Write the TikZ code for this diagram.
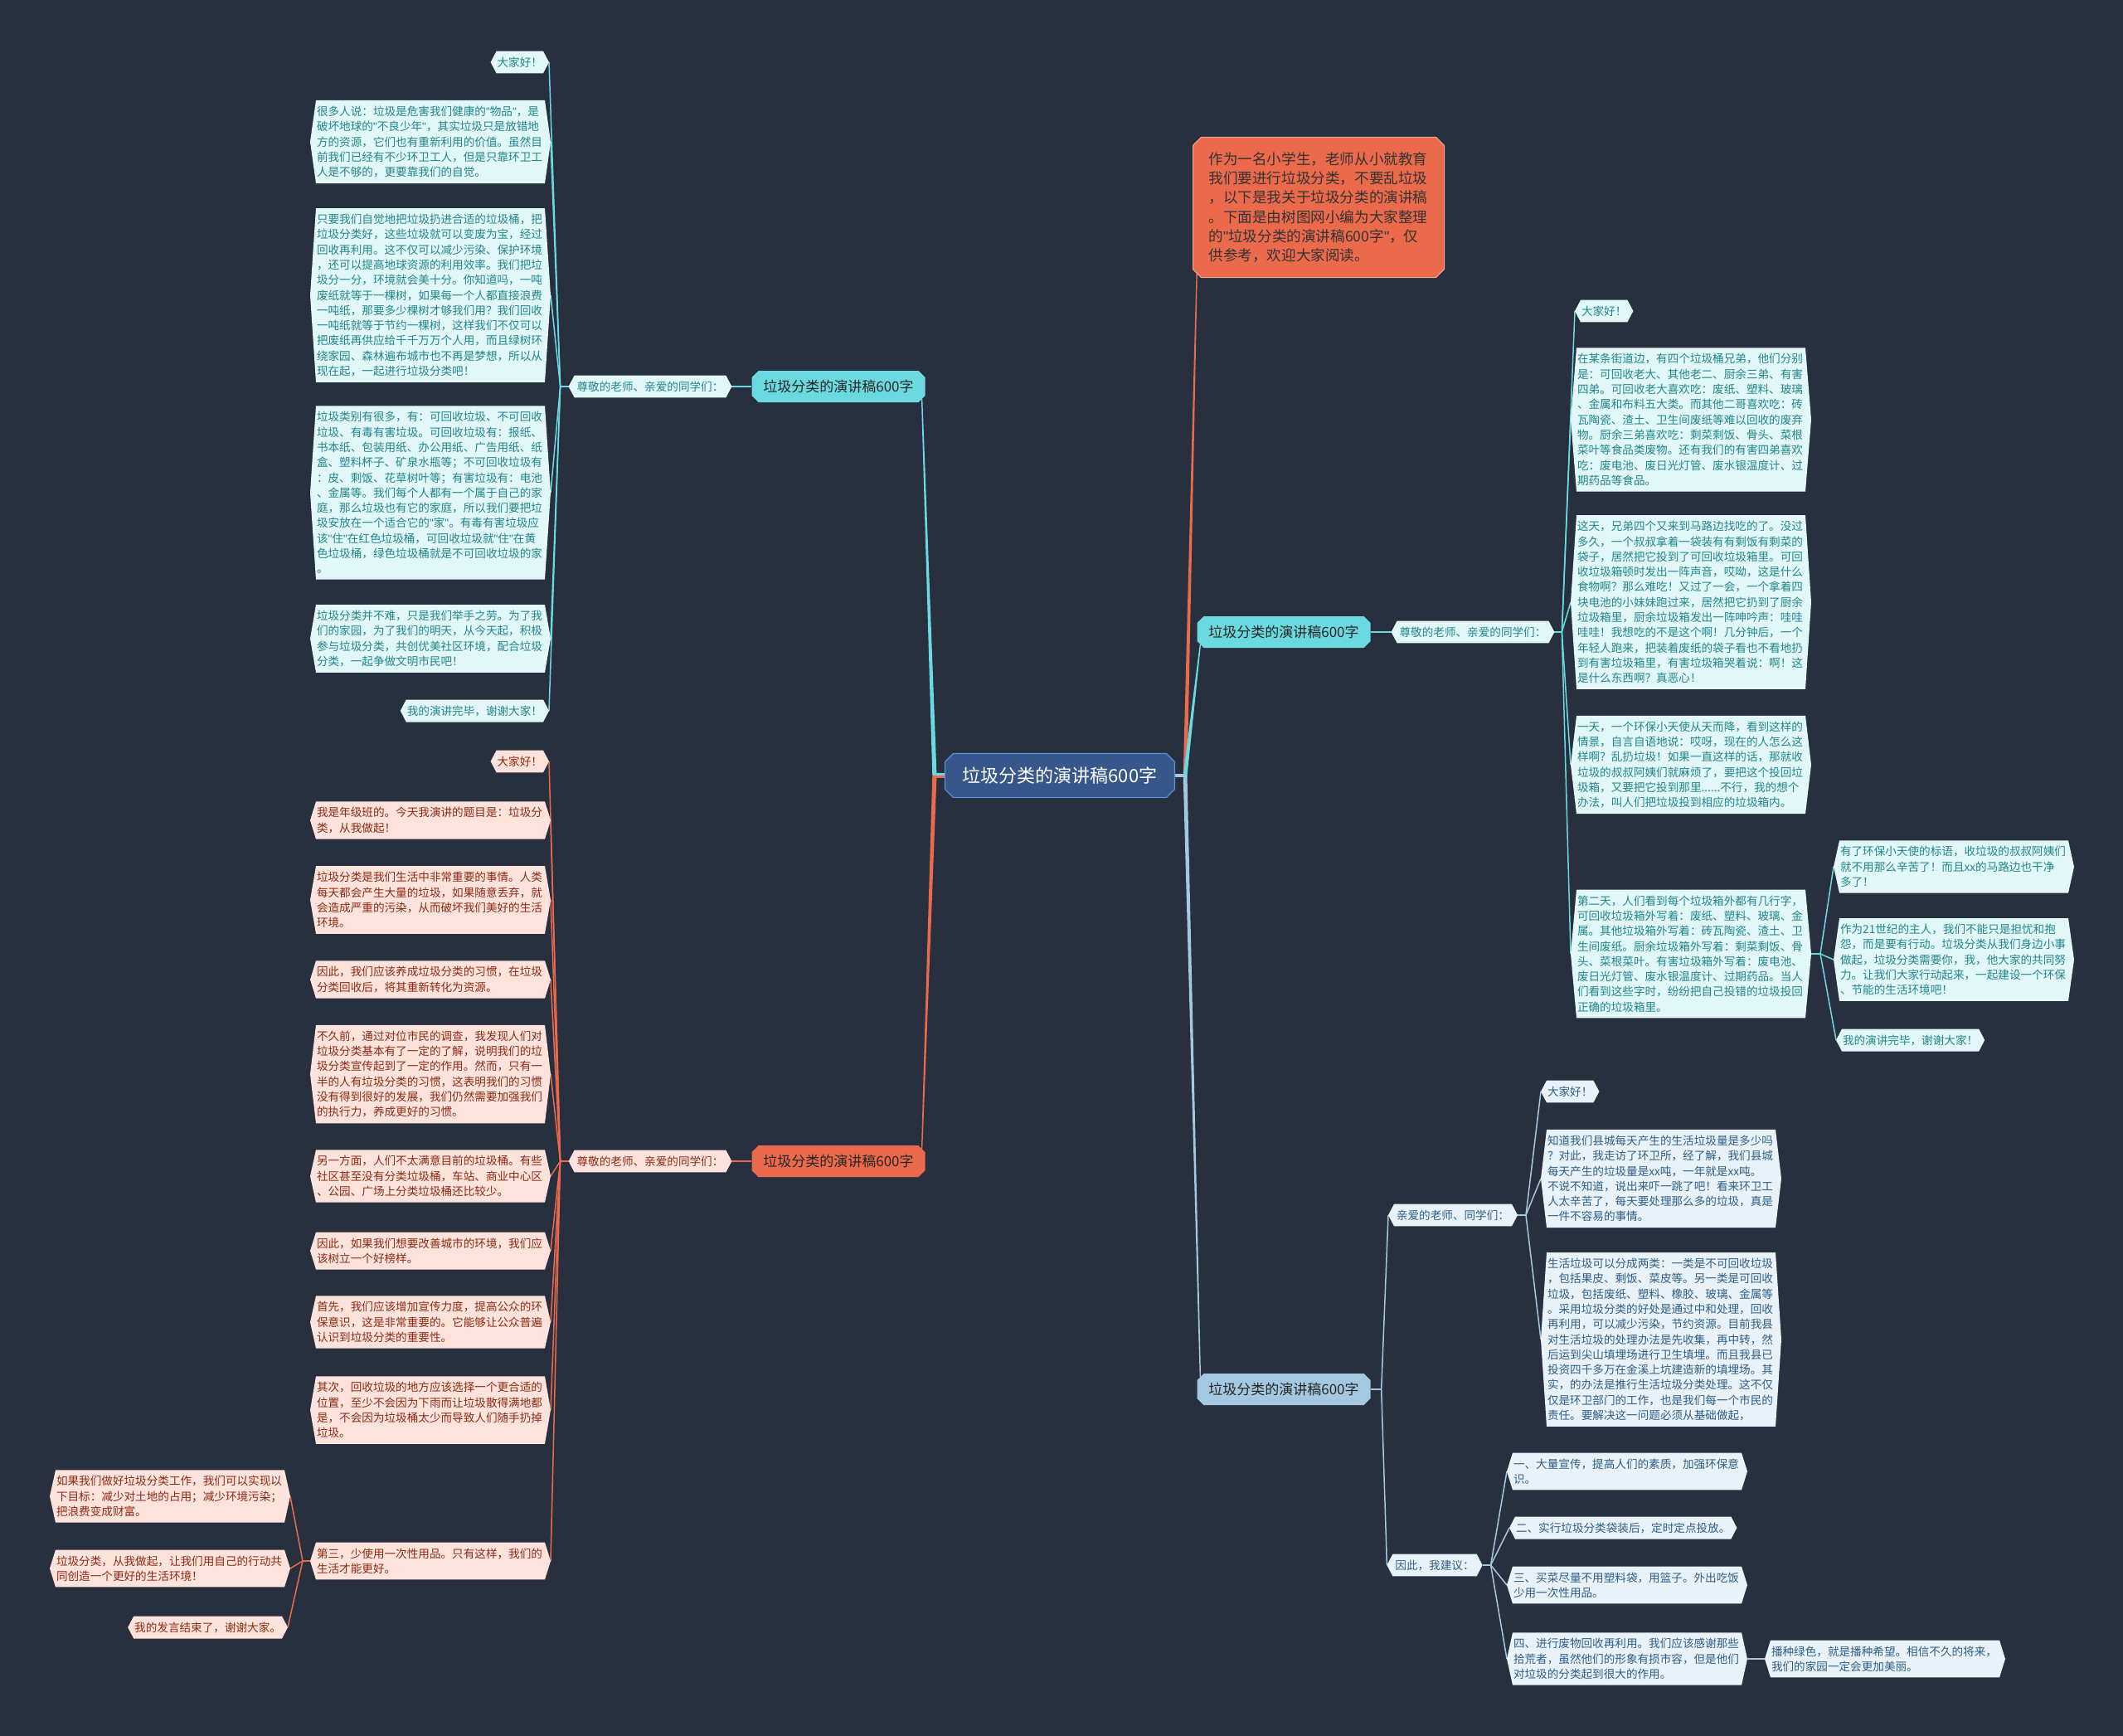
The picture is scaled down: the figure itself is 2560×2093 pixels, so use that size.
\documentclass[tikz,border=0pt]{standalone}
\usepackage{fontspec}
\setmainfont{Noto Sans CJK SC}
\newfontfamily\latinf{Liberation Sans}
\newcommand\qq{{\latinf\char34}}
\usetikzlibrary{shapes.misc,calc,backgrounds}
\definecolor{bg}{HTML}{283040}
\definecolor{cyanL}{HTML}{6BD9E0}
\definecolor{orangeL}{HTML}{EC6A4C}
\definecolor{blueL}{HTML}{A3C8E0}
\definecolor{cyanF}{HTML}{E2F7F8}
\definecolor{orangeF}{HTML}{FDE3DB}
\definecolor{blueF}{HTML}{E9F2F9}
\definecolor{tealtx}{HTML}{21868C}
\definecolor{redtx}{HTML}{8C2A14}
\definecolor{bluetx}{HTML}{2E5E84}
\definecolor{rootF}{HTML}{37568A}
\definecolor{rootD}{HTML}{5B8ED6}
\newcommand\leaffont{\fontsize{13.6}{18.3}\selectfont}
\newcommand\hexbox[2]{\fill[#2] ([xshift=-7pt]#1.west) -- (#1.north west) -- (#1.north east) -- ([xshift=7pt]#1.east) -- (#1.south east) -- (#1.south west) -- cycle;}
\newcommand\taper[4]{\fill[#3] ($(#1)+(-#4,0)$) -- ($(#2)+(-0.7,0)$) -- ($(#2)+(0.7,0)$) -- ($(#1)+(#4,0)$) -- cycle;}
\tikzset{
  leaf/.style={inner xsep=1pt, inner ysep=7pt, align=left, font=\leaffont, outer sep=0pt},
  leafC/.style={leaf, text=tealtx},
  leafO/.style={leaf, text=redtx},
  leafB/.style={leaf, text=bluetx},
  wide/.style={text width=274pt},
  lvone/.style={chamfered rectangle, chamfered rectangle xsep=4pt, chamfered rectangle ysep=4pt,
    minimum width=209pt, minimum height=38pt, inner sep=0pt, font={\fontsize{17}{20}\selectfont}},
  cline/.style={line width=1.5pt},
}
\begin{document}
\begin{tikzpicture}[x=1pt,y=-1pt]
\useasboundingbox (0,0) rectangle (2560,2093);

% root and level one
\node[chamfered rectangle, chamfered rectangle xsep=5pt, chamfered rectangle ysep=5pt,
  fill=rootF, draw=rootD, line width=1.2pt, minimum width=277pt, minimum height=53pt, inner sep=0pt,
  text=white, font={\fontsize{22}{26}\selectfont}] (root) at (1278,935) {垃圾分类的演讲稿600字};
\node[lvone, fill=cyanL, text=black!85] (L1a) at (1011,466) {垃圾分类的演讲稿600字};
\node[lvone, fill=orangeL, text=black!85] (L1b) at (1011,1400) {垃圾分类的演讲稿600字};
\node[lvone, fill=cyanL, text=black!85] (R1b) at (1548,762) {垃圾分类的演讲稿600字};
\node[lvone, fill=blueL, text=black!85] (R1c) at (1548,1675) {垃圾分类的演讲稿600字};
\node[chamfered rectangle, chamfered rectangle xsep=5pt, chamfered rectangle ysep=5pt,
  fill=orangeL, draw=orangeL!60!white, line width=1pt, text width=265pt, inner xsep=14pt, inner ysep=13pt,
  align=left, text=black!80, font={\fontsize{17.6}{23.3}\selectfont}] (intro) at (1590,250)
  {作为一名小学生，老师从小就教育\\我们要进行垃圾分类，不要乱垃圾\\，以下是我关于垃圾分类的演讲稿\\。下面是由树图网小编为大家整理\\的\qq 垃圾分类的演讲稿600字\qq ，仅\\供参考，欢迎大家阅读。};

% level two
\node[leafC, inner xsep=3pt] (L2a) at (784,466) {尊敬的老师、亲爱的同学们：};
\node[leafO, inner xsep=3pt] (L2b) at (784,1400) {尊敬的老师、亲爱的同学们：};
\node[leafC, inner xsep=3pt] (R2a) at (1776,762) {尊敬的老师、亲爱的同学们：};
\node[leafB, inner xsep=3pt] (R2c1) at (1752,1465) {亲爱的老师、同学们：};
\node[leafB, inner xsep=3pt] (R2c2) at (1730,1887) {因此，我建议：};

% left cyan leaves
\node[leafC, anchor=east] (c0) at (655,75) {大家好！};
\node[leafC, wide] (c1) at (519,171) {很多人说：垃圾是危害我们健康的\qq 物品\qq ，是\\破坏地球的\qq 不良少年\qq ，其实垃圾只是放错地\\方的资源，它们也有重新利用的价值。虽然目\\前我们已经有不少环卫工人，但是只靠环卫工\\人是不够的，更要靠我们的自觉。};
\node[leafC, wide] (c2) at (519,356) {只要我们自觉地把垃圾扔进合适的垃圾桶，把\\垃圾分类好，这些垃圾就可以变废为宝，经过\\回收再利用。这不仅可以减少污染、保护环境\\，还可以提高地球资源的利用效率。我们把垃\\圾分一分，环境就会美十分。你知道吗，一吨\\废纸就等于一棵树，如果每一个人都直接浪费\\一吨纸，那要多少棵树才够我们用？我们回收\\一吨纸就等于节约一棵树，这样我们不仅可以\\把废纸再供应给千千万万个人用，而且绿树环\\绕家园、森林遍布城市也不再是梦想，所以从\\现在起，一起进行垃圾分类吧！};
\node[leafC, wide] (c3) at (519,594) {垃圾类别有很多，有：可回收垃圾、不可回收\\垃圾、有毒有害垃圾。可回收垃圾有：报纸、\\书本纸、包装用纸、办公用纸、广告用纸、纸\\盒、塑料杯子、矿泉水瓶等；不可回收垃圾有\\：皮、剩饭、花草树叶等；有害垃圾有：电池\\、金属等。我们每个人都有一个属于自己的家\\庭，那么垃圾也有它的家庭，所以我们要把垃\\圾安放在一个适合它的\qq 家\qq 。有毒有害垃圾应\\该\qq 住\qq 在红色垃圾桶，可回收垃圾就\qq 住\qq 在黄\\色垃圾桶，绿色垃圾桶就是不可回收垃圾的家\\。};
\node[leafC, wide] (c4) at (519,770) {垃圾分类并不难，只是我们举手之劳。为了我\\们的家园，为了我们的明天，从今天起，积极\\参与垃圾分类，共创优美社区环境，配合垃圾\\分类，一起争做文明市民吧！};
\node[leafC, anchor=east] (c5) at (655,857) {我的演讲完毕，谢谢大家！};

% left orange leaves
\node[leafO, anchor=east] (o0) at (655,918) {大家好！};
\node[leafO, wide] (o1) at (519,989) {我是年级班的。今天我演讲的题目是：垃圾分\\类，从我做起！};
\node[leafO, wide] (o2) at (519,1085) {垃圾分类是我们生活中非常重要的事情。人类\\每天都会产生大量的垃圾，如果随意丢弃，就\\会造成严重的污染，从而破坏我们美好的生活\\环境。};
\node[leafO, wide] (o3) at (519,1181) {因此，我们应该养成垃圾分类的习惯，在垃圾\\分类回收后，将其重新转化为资源。};
\node[leafO, wide] (o4) at (519,1295) {不久前，通过对位市民的调查，我发现人们对\\垃圾分类基本有了一定的了解，说明我们的垃\\圾分类宣传起到了一定的作用。然而，只有一\\半的人有垃圾分类的习惯，这表明我们的习惯\\没有得到很好的发展，我们仍然需要加强我们\\的执行力，养成更好的习惯。};
\node[leafO, wide] (o5) at (519,1418) {另一方面，人们不太满意目前的垃圾桶。有些\\社区甚至没有分类垃圾桶，车站、商业中心区\\、公园、广场上分类垃圾桶还比较少。};
\node[leafO, wide] (o6) at (519,1508) {因此，如果我们想要改善城市的环境，我们应\\该树立一个好榜样。};
\node[leafO, wide] (o7) at (519,1594) {首先，我们应该增加宣传力度，提高公众的环\\保意识，这是非常重要的。它能够让公众普遍\\认识到垃圾分类的重要性。};
\node[leafO, wide] (o8) at (519,1700) {其次，回收垃圾的地方应该选择一个更合适的\\位置，至少不会因为下雨而让垃圾散得满地都\\是，不会因为垃圾桶太少而导致人们随手扔掉\\垃圾。};
\node[leafO, wide] (o9) at (519,1882) {第三，少使用一次性用品。只有这样，我们的\\生活才能更好。};
\node[leafO, wide] (b1) at (205,1804) {如果我们做好垃圾分类工作，我们可以实现以\\下目标：减少对土地的占用；减少环境污染；\\把浪费变成财富。};
\node[leafO, wide] (b2) at (205,1891) {垃圾分类，从我做起，让我们用自己的行动共\\同创造一个更好的生活环境！};
\node[leafO, anchor=east] (b3) at (340,1962) {我的发言结束了，谢谢大家。};

% right cyan leaves
\node[leafC, anchor=west] (r0) at (1906,375) {大家好！};
\node[leafC, wide] (r1) at (2039,506) {在某条街道边，有四个垃圾桶兄弟，他们分别\\是：可回收老大、其他老二、厨余三弟、有害\\四弟。可回收老大喜欢吃：废纸、塑料、玻璃\\、金属和布料五大类。而其他二哥喜欢吃：砖\\瓦陶瓷、渣土、卫生间废纸等难以回收的废弃\\物。厨余三弟喜欢吃：剩菜剩饭、骨头、菜根\\菜叶等食品类废物。还有我们的有害四弟喜欢\\吃：废电池、废日光灯管、废水银温度计、过\\期药品等食品。};
\node[leafC, wide] (r2) at (2039,726) {这天，兄弟四个又来到马路边找吃的了。没过\\多久，一个叔叔拿着一袋装有有剩饭有剩菜的\\袋子，居然把它投到了可回收垃圾箱里。可回\\收垃圾箱顿时发出一阵声音，哎呦，这是什么\\食物啊？那么难吃！又过了一会，一个拿着四\\块电池的小妹妹跑过来，居然把它扔到了厨余\\垃圾箱里，厨余垃圾箱发出一阵呻吟声：哇哇\\哇哇！我想吃的不是这个啊！几分钟后，一个\\年轻人跑来，把装着废纸的袋子看也不看地扔\\到有害垃圾箱里，有害垃圾箱哭着说：啊！这\\是什么东西啊？真恶心！};
\node[leafC, wide] (r3) at (2039,922) {一天，一个环保小天使从天而降，看到这样的\\情景，自言自语地说：哎呀，现在的人怎么这\\样啊？乱扔垃圾！如果一直这样的话，那就收\\垃圾的叔叔阿姨们就麻烦了，要把这个投回垃\\圾箱，又要把它投到那里......不行，我的想个\\办法，叫人们把垃圾投到相应的垃圾箱内。};
\node[leafC, wide] (r4) at (2039,1150) {第二天，人们看到每个垃圾箱外都有几行字，\\可回收垃圾箱外写着：废纸、塑料、玻璃、金\\属。其他垃圾箱外写着：砖瓦陶瓷、渣土、卫\\生间废纸。厨余垃圾箱外写着：剩菜剩饭、骨\\头、菜根菜叶。有害垃圾箱外写着：废电池、\\废日光灯管、废水银温度计、过期药品。当人\\们看到这些字时，纷纷把自己投错的垃圾投回\\正确的垃圾箱里。};
\node[leafC, wide] (s1) at (2356,1045) {有了环保小天使的标语，收垃圾的叔叔阿姨们\\就不用那么辛苦了！而且xx的马路边也干净\\多了！};
\node[leafC, wide] (s2) at (2356,1157) {作为21世纪的主人，我们不能只是担忧和抱\\怨，而是要有行动。垃圾分类从我们身边小事\\做起，垃圾分类需要你，我，他大家的共同努\\力。让我们大家行动起来，一起建设一个环保\\、节能的生活环境吧！};
\node[leafC, anchor=west] (s3) at (2221,1254) {我的演讲完毕，谢谢大家！};

% right blue leaves
\node[leafB, anchor=west] (u0) at (1865,1316) {大家好！};
\node[leafB, wide] (u1) at (2003,1421) {知道我们县城每天产生的生活垃圾量是多少吗\\？对此，我走访了环卫所，经了解，我们县城\\每天产生的垃圾量是xx吨，一年就是xx吨。\\不说不知道，说出来吓一跳了吧！看来环卫工\\人太辛苦了，每天要处理那么多的垃圾，真是\\一件不容易的事情。};
\node[leafB, wide] (u2) at (2003,1615) {生活垃圾可以分成两类：一类是不可回收垃圾\\，包括果皮、剩饭、菜皮等。另一类是可回收\\垃圾，包括废纸、塑料、橡胶、玻璃、金属等\\。采用垃圾分类的好处是通过中和处理，回收\\再利用，可以减少污染，节约资源。目前我县\\对生活垃圾的处理办法是先收集，再中转，然\\后运到尖山填埋场进行卫生填埋。而且我县已\\投资四千多万在金溪上坑建造新的填埋场。其\\实，的办法是推行生活垃圾分类处理。这不仅\\仅是环卫部门的工作，也是我们每一个市民的\\责任。要解决这一问题必须从基础做起，};
\node[leafB, wide] (v1) at (1962,1774) {一、大量宣传，提高人们的素质，加强环保意\\识。};
\node[leafB, anchor=west] (v2) at (1827,1842) {二、实行垃圾分类袋装后，定时定点投放。};
\node[leafB, wide] (v3) at (1962,1911) {三、买菜尽量不用塑料袋，用篮子。外出吃饭\\少用一次性用品。};
\node[leafB, wide] (v4) at (1962,2000) {四、进行废物回收再利用。我们应该感谢那些\\拾荒者，虽然他们的形象有损市容，但是他们\\对垃圾的分类起到很大的作用。};
\node[leafB, wide] (w1) at (2273,2000) {播种绿色，就是播种希望。相信不久的将来，\\我们的家园一定会更加美丽。};

% junction coordinates
\coordinate (rl) at ([xshift=-12pt]root.west);
\coordinate (rr) at ([xshift=12pt]root.east);
\coordinate (jc) at ([xshift=-17pt]L2a.west);
\coordinate (jo) at ([xshift=-17pt]L2b.west);
\coordinate (jb) at ([xshift=-16pt]o9.west);
\coordinate (jr) at ([xshift=16pt]R2a.east);
\coordinate (js) at ([xshift=18pt]r4.east);
\coordinate (jq) at ([xshift=13pt]R1c.east);
\coordinate (ju) at ([xshift=17pt]R2c1.east);
\coordinate (jv) at ([xshift=17pt]R2c2.east);

\begin{pgfonlayer}{background}
\fill[bg] (0,0) rectangle (2560,2093);
% root connectors
\draw[cyanL, line width=3pt] ([yshift=1.5pt]root.west) -- ([yshift=1.5pt]rl);
\draw[orangeL, line width=3pt] ([yshift=-1.5pt]root.west) -- ([yshift=-1.5pt]rl);
\draw[blueL, line width=4pt] (root.east) -- (rr);
\taper{rl}{L1a.south east}{cyanL}{2.6}
\taper{rl}{L1b.north east}{orangeL}{2.6}
\taper{rr}{intro.south west}{orangeL}{2.4}
\taper{rr}{R1b.south west}{cyanL}{2.4}
\taper{rr}{R1c.north west}{blueL}{2.4}
% level one to level two
\draw[cyanL, line width=2pt] (L1a.west) -- ([xshift=7pt]L2a.east);
\draw[orangeL, line width=2pt] (L1b.west) -- ([xshift=7pt]L2b.east);
\draw[cyanL, line width=2pt] (R1b.east) -- ([xshift=-7pt]R2a.west);
\draw[blueL, cline] (R1c.east) -- (jq);
\draw[blueL, cline] (jq) -- ([xshift=-7pt]R2c1.west);
\draw[blueL, cline] (jq) -- ([xshift=-7pt]R2c2.west);
% level two to leaves
\draw[cyanL, cline] ([xshift=-7pt]L2a.west) -- (jc);
\foreach \n in {c0,c1,c2,c3,c4,c5} \draw[cyanL, cline] (jc) -- ([xshift=7pt]\n.east);
\draw[orangeL, cline] ([xshift=-7pt]L2b.west) -- (jo);
\foreach \n in {o0,o1,o2,o3,o4,o5,o6,o7,o8,o9} \draw[orangeL, cline] (jo) -- ([xshift=7pt]\n.east);
\draw[orangeL, cline] ([xshift=-7pt]o9.west) -- (jb);
\foreach \n in {b1,b2,b3} \draw[orangeL, cline] (jb) -- ([xshift=7pt]\n.east);
\draw[cyanL, cline] ([xshift=7pt]R2a.east) -- (jr);
\foreach \n in {r0,r1,r2,r3,r4} \draw[cyanL, cline] (jr) -- ([xshift=-7pt]\n.west);
\draw[cyanL, cline] ([xshift=7pt]r4.east) -- (js);
\foreach \n in {s1,s2,s3} \draw[cyanL, cline] (js) -- ([xshift=-7pt]\n.west);
\draw[blueL, cline] ([xshift=7pt]R2c1.east) -- (ju);
\foreach \n in {u0,u1,u2} \draw[blueL, cline] (ju) -- ([xshift=-7pt]\n.west);
\draw[blueL, cline] ([xshift=7pt]R2c2.east) -- (jv);
\foreach \n in {v1,v2,v3,v4} \draw[blueL, cline] (jv) -- ([xshift=-7pt]\n.west);
\draw[blueL, line width=2pt] ([xshift=7pt]v4.east) -- ([xshift=-7pt]w1.west);
% hexagonal fills
\foreach \n in {L2a,R2a,c0,c1,c2,c3,c4,c5,r0,r1,r2,r3,r4,s1,s2,s3} {\hexbox{\n}{cyanF}}
\foreach \n in {L2b,o0,o1,o2,o3,o4,o5,o6,o7,o8,o9,b1,b2,b3} {\hexbox{\n}{orangeF}}
\foreach \n in {R2c1,R2c2,u0,u1,u2,v1,v2,v3,v4,w1} {\hexbox{\n}{blueF}}
\end{pgfonlayer}
\end{tikzpicture}
\end{document}
